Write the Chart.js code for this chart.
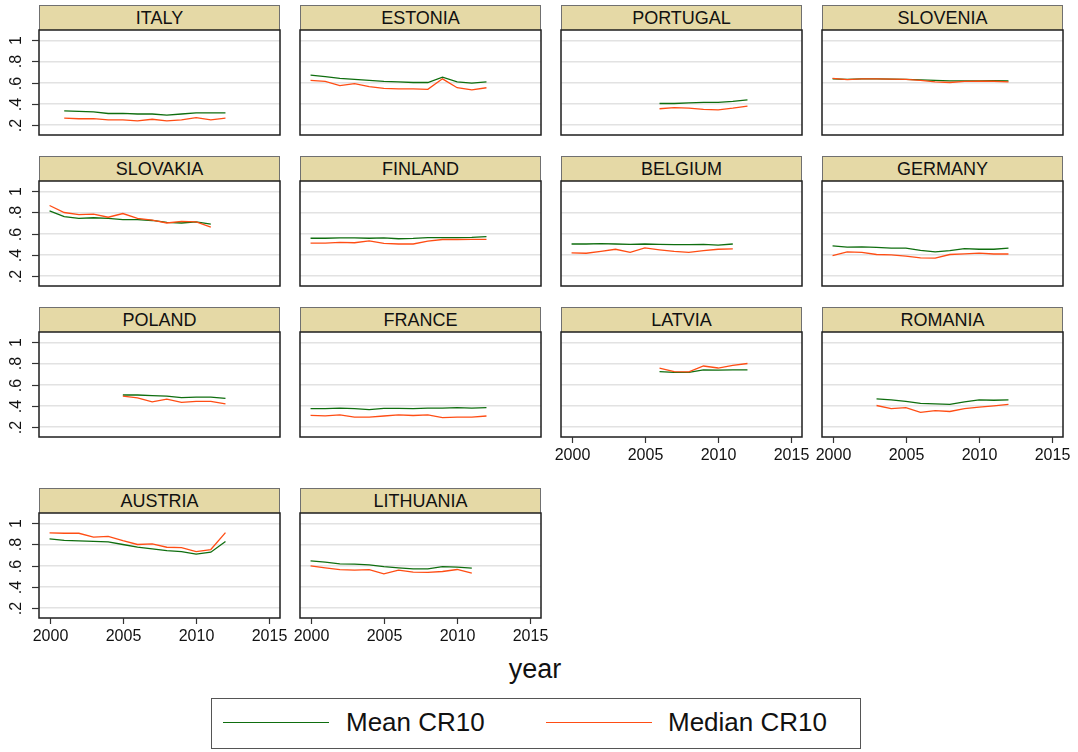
<!DOCTYPE html>
<html>
<head>
<meta charset="utf-8">
<script src="https://cdn.jsdelivr.net/npm/chart.js@4.4.1/dist/chart.umd.min.js"></script>
<style>
  body { margin: 0; background: #fff; width: 1078px; height: 752px; position: relative; overflow: hidden;
         font-family: "Liberation Sans", Arial, sans-serif; }
  .strip { position: absolute; height: 25px; width: 241px; box-sizing: border-box; background: #e5d9a6;
           border: 1px solid #707070; border-bottom: none; text-align: center; font-size: 18px;
           line-height: 25px; color: #111; }
  canvas { position: absolute; }
  #xtitle { position: absolute; left: 435px; width: 200px; top: 654px; text-align: center; font-size: 27px; color: #111; }
  #legend { position: absolute; left: 211px; top: 698px; width: 650px; height: 51px; box-sizing: border-box;
            border: 1px solid #555; }
  #legend .swatch { position: absolute; top: 23px; width: 106px; height: 0; border-top: 1.5px solid; }
  #legend .txt { position: absolute; top: 8px; font-size: 26px; color: #111; line-height: 30px; }
</style>
</head>
<body>
<div id="xtitle">year</div>
<div id="legend">
  <div class="swatch" style="left:11px;border-color:#0f6e0f"></div>
  <div class="txt" style="left:134px">Mean CR10</div>
  <div class="swatch" style="left:334px;border-color:#ff4d14"></div>
  <div class="txt" style="left:456px">Median CR10</div>
</div>
<script>
// CR10 concentration ratios by country, 2000-2012 (null = no observation)
const years = [2000, 2001, 2002, 2003, 2004, 2005, 2006, 2007, 2008, 2009, 2010, 2011, 2012];
const xTicks = [2000, 2005, 2010, 2015];
const yTicks = [0.2, 0.4, 0.6, 0.8, 1];
const yTickLabels = ['.2', '.4', '.6', '.8', '1'];

const italyMean       = [null, 0.33, 0.325, 0.32, 0.305, 0.305, 0.30, 0.30, 0.29, 0.30, 0.31, 0.31, 0.31];
const italyMedian     = [null, 0.26, 0.255, 0.255, 0.245, 0.245, 0.235, 0.25, 0.235, 0.245, 0.265, 0.245, 0.26];
const estoniaMean     = [0.67, 0.655, 0.64, 0.63, 0.62, 0.61, 0.605, 0.60, 0.60, 0.65, 0.605, 0.595, 0.605];
const estoniaMedian   = [0.62, 0.61, 0.57, 0.59, 0.56, 0.545, 0.54, 0.54, 0.535, 0.635, 0.55, 0.53, 0.55];
const portugalMean    = [null, null, null, null, null, null, 0.40, 0.40, 0.405, 0.41, 0.41, 0.42, 0.435];
const portugalMedian  = [null, null, null, null, null, null, 0.35, 0.36, 0.355, 0.345, 0.34, 0.355, 0.375];
const sloveniaMean    = [0.635, 0.63, 0.635, 0.635, 0.633, 0.63, 0.625, 0.62, 0.615, 0.615, 0.615, 0.618, 0.615];
const sloveniaMedian  = [0.64, 0.628, 0.635, 0.635, 0.632, 0.63, 0.62, 0.605, 0.60, 0.61, 0.612, 0.612, 0.605];
const slovakiaMean    = [0.816, 0.76, 0.745, 0.75, 0.745, 0.733, 0.733, 0.724, 0.705, 0.70, 0.71, 0.69, null];
const slovakiaMedian  = [0.867, 0.80, 0.78, 0.785, 0.755, 0.79, 0.745, 0.727, 0.70, 0.715, 0.71, 0.66, null];
const finlandMean     = [0.555, 0.555, 0.558, 0.558, 0.555, 0.558, 0.55, 0.553, 0.56, 0.56, 0.56, 0.563, 0.57];
const finlandMedian   = [0.508, 0.508, 0.515, 0.512, 0.53, 0.505, 0.50, 0.50, 0.527, 0.543, 0.543, 0.545, 0.545];
const belgiumMean     = [0.50, 0.50, 0.503, 0.50, 0.497, 0.50, 0.497, 0.495, 0.495, 0.497, 0.49, 0.50, null];
const belgiumMedian   = [0.415, 0.412, 0.43, 0.45, 0.42, 0.463, 0.445, 0.43, 0.42, 0.436, 0.45, 0.453, null];
const germanyMean     = [0.483, 0.47, 0.473, 0.467, 0.46, 0.46, 0.44, 0.425, 0.437, 0.455, 0.45, 0.45, 0.46];
const germanyMedian   = [0.39, 0.425, 0.42, 0.40, 0.397, 0.385, 0.368, 0.365, 0.40, 0.405, 0.413, 0.405, 0.405];
const polandMean      = [null, null, null, null, null, 0.50, 0.50, 0.495, 0.49, 0.475, 0.48, 0.48, 0.467];
const polandMedian    = [null, null, null, null, null, 0.49, 0.473, 0.435, 0.46, 0.43, 0.44, 0.44, 0.415];
const franceMean      = [0.37, 0.37, 0.375, 0.37, 0.36, 0.372, 0.372, 0.37, 0.375, 0.375, 0.38, 0.375, 0.38];
const franceMedian    = [0.305, 0.302, 0.31, 0.29, 0.29, 0.30, 0.31, 0.305, 0.31, 0.285, 0.29, 0.29, 0.30];
const latviaMean      = [null, null, null, null, null, null, 0.723, 0.716, 0.716, 0.74, 0.737, 0.74, 0.74];
const latviaMedian    = [null, null, null, null, null, null, 0.757, 0.723, 0.72, 0.776, 0.757, 0.783, 0.80];
const romaniaMean     = [null, null, null, 0.463, 0.454, 0.44, 0.42, 0.416, 0.41, 0.435, 0.454, 0.45, 0.454];
const romaniaMedian   = [null, null, null, 0.40, 0.37, 0.38, 0.334, 0.352, 0.343, 0.37, 0.385, 0.397, 0.41];
const austriaMean     = [0.853, 0.84, 0.834, 0.83, 0.825, 0.80, 0.774, 0.758, 0.742, 0.733, 0.708, 0.727, 0.828];
const austriaMedian   = [0.91, 0.907, 0.907, 0.87, 0.878, 0.837, 0.80, 0.805, 0.774, 0.77, 0.733, 0.752, 0.913];
const lithuaniaMean   = [0.644, 0.632, 0.616, 0.613, 0.606, 0.59, 0.578, 0.568, 0.568, 0.59, 0.584, 0.575, null];
const lithuaniaMedian = [0.597, 0.578, 0.56, 0.556, 0.56, 0.52, 0.556, 0.537, 0.534, 0.543, 0.562, 0.527, null];

const countries = ['ITALY', 'ESTONIA', 'PORTUGAL', 'SLOVENIA', 'SLOVAKIA', 'FINLAND', 'BELGIUM', 'GERMANY',
                   'POLAND', 'FRANCE', 'LATVIA', 'ROMANIA', 'AUSTRIA', 'LITHUANIA'];
const meanSeries = [italyMean, estoniaMean, portugalMean, sloveniaMean, slovakiaMean, finlandMean, belgiumMean,
                    germanyMean, polandMean, franceMean, latviaMean, romaniaMean, austriaMean, lithuaniaMean];
const medianSeries = [italyMedian, estoniaMedian, portugalMedian, sloveniaMedian, slovakiaMedian, finlandMedian,
                      belgiumMedian, germanyMedian, polandMedian, franceMedian, latviaMedian, romaniaMedian,
                      austriaMedian, lithuaniaMedian];

const GREEN = '#0f6e0f';
const ORANGE = '#ff4d14';
const colLeft = [39, 300, 561, 822];
const rowTop = [5, 156, 307, 488];
const PW = 241, PH = 105, STRIP = 25;
const PAD = { left: 40, top: 3, right: 24, bottom: 40 };
// panels that carry x-axis labels (last one in each column)
const xLabelled = ['LATVIA', 'ROMANIA', 'AUSTRIA', 'LITHUANIA'];

const toPoints = arr => years.map((yr, i) => ({ x: yr, y: arr[i] }));

function framePlugin(showY, showX) {
  return {
    id: 'frame',
    afterDraw(chart) {
      const { ctx, chartArea: a, scales: { x, y } } = chart;
      ctx.save();
      ctx.strokeStyle = '#1e1e1e';
      ctx.lineWidth = 1.5;
      ctx.strokeRect(a.left, a.top, a.width, a.height);
      ctx.fillStyle = '#111';
      ctx.font = '16px "Liberation Sans", Arial, sans-serif';
      ctx.strokeStyle = '#333';
      ctx.lineWidth = 1.2;
      if (showY) {
        yTicks.forEach((v, i) => {
          const py = Math.round(y.getPixelForValue(v)) + 0.5;
          ctx.beginPath(); ctx.moveTo(a.left - 7, py); ctx.lineTo(a.left, py); ctx.stroke();
          ctx.save();
          ctx.translate(a.left - 22, py);
          ctx.rotate(-Math.PI / 2);
          ctx.textAlign = 'center'; ctx.textBaseline = 'middle';
          ctx.fillText(yTickLabels[i], 0, 0);
          ctx.restore();
        });
      }
      if (showX) {
        xTicks.forEach(v => {
          const px = Math.round(x.getPixelForValue(v)) + 0.5;
          ctx.beginPath(); ctx.moveTo(px, a.bottom); ctx.lineTo(px, a.bottom + 6); ctx.stroke();
          ctx.textAlign = 'center'; ctx.textBaseline = 'top';
          ctx.fillText(String(v), px, a.bottom + 11);
        });
      }
      ctx.restore();
    }
  };
}

countries.forEach((name, k) => {
  const col = k % 4, row = Math.floor(k / 4);
  const L = colLeft[col], T = rowTop[row];

  const strip = document.createElement('div');
  strip.className = 'strip';
  strip.style.left = L + 'px';
  strip.style.top = T + 'px';
  strip.textContent = name;
  document.body.appendChild(strip);

  const cv = document.createElement('canvas');
  cv.width = PW + PAD.left + PAD.right;
  cv.height = PH + PAD.top + PAD.bottom;
  cv.style.left = (L - PAD.left) + 'px';
  cv.style.top = (T + STRIP - PAD.top) + 'px';
  document.body.appendChild(cv);

  new Chart(cv, {
    type: 'line',
    data: {
      datasets: [
        { label: 'Mean CR10', data: toPoints(meanSeries[k]), borderColor: GREEN, borderWidth: 1.3,
          pointRadius: 0, tension: 0, spanGaps: false, order: 1 },
        { label: 'Median CR10', data: toPoints(medianSeries[k]), borderColor: ORANGE, borderWidth: 1.3,
          pointRadius: 0, tension: 0, spanGaps: false, order: 0 }
      ]
    },
    options: {
      responsive: false,
      animation: false,
      devicePixelRatio: 1,
      layout: { padding: PAD },
      plugins: { legend: { display: false }, tooltip: { enabled: false } },
      scales: {
        x: {
          type: 'linear', min: 1999.28, max: 2015.72,
          grid: { display: false }, border: { display: false }, ticks: { display: false },
          afterBuildTicks: s => { s.ticks = xTicks.map(v => ({ value: v })); },
          afterFit: s => { s.height = 0; s.paddingLeft = 0; s.paddingRight = 0; }
        },
        y: {
          min: 0.1, max: 1.1,
          grid: { color: '#e2e2e2', lineWidth: 1.5, drawTicks: false }, border: { display: false },
          ticks: { display: false },
          afterBuildTicks: s => { s.ticks = yTicks.map(v => ({ value: v })); },
          afterFit: s => { s.width = 0; s.paddingTop = 0; s.paddingBottom = 0; }
        }
      }
    },
    plugins: [framePlugin(col === 0, xLabelled.includes(name))]
  });
});
</script>
</body>
</html>
